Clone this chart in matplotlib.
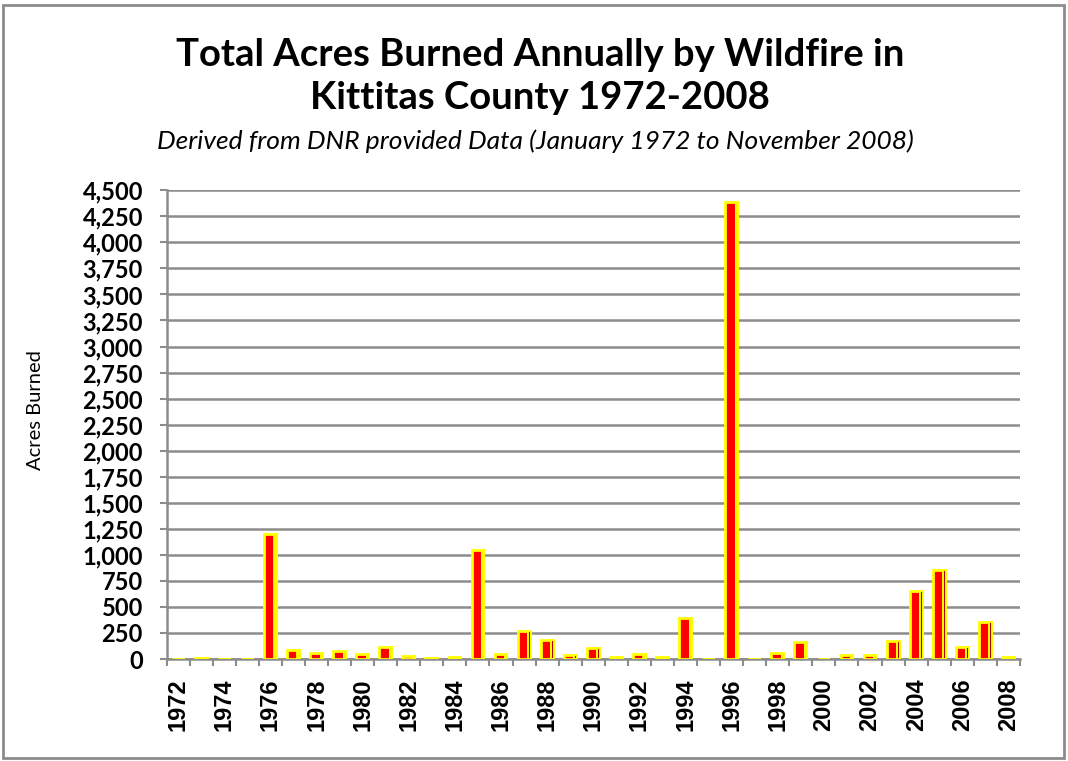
import numpy as np
import matplotlib.pyplot as plt
from matplotlib.patches import Rectangle

# Acres burned per year
years = list(range(1972, 2009))
acres = [5, 10, 5, 5, 1200, 90, 60, 80, 45, 115,
         30, 10, 20, 1050, 50, 265, 180, 40, 105, 20,
         50, 15, 390, 5, 4390, 5, 55, 165, 5, 35,
         40, 175, 650, 855, 120, 355, 20]
year_labels = [str(y) if y % 2 == 0 else "" for y in years]
y_ticks = list(range(0, 4501, 250))
y_labels = [f"{v:,}" for v in y_ticks]

plt.rcParams["font.family"] = ["Lato", "DejaVu Sans"]

fig = plt.figure(figsize=(10.68, 7.61), dpi=100)
ax = fig.add_axes([0.156, 0.134, 0.799, 0.616])

x = np.arange(len(years))
# front face + darker side face to mimic the 3D columns
ax.bar(x - 0.05, acres, width=0.45, color="#ff0000", edgecolor="#ffff00",
       linewidth=2, zorder=3)
ax.bar(x + 0.23, acres, width=0.1, color="#b00000", edgecolor="#ffff00",
       linewidth=1.4, zorder=3)

ax.set_xlim(-0.5, len(years) - 0.5)
ax.set_ylim(0, 4500)
ax.set_yticks(y_ticks, y_labels, fontsize=17, fontweight="bold")
ax.grid(axis="y", color="#8c8c8c", linewidth=1.8, zorder=0)

ax.set_xticks(x, year_labels, rotation=90, fontsize=17, fontweight="bold",
              family="Liberation Sans")
ax.set_xticks(np.arange(-0.5, len(years), 1), minor=True)
ax.tick_params(axis="x", which="major", length=0, pad=14)
ax.tick_params(axis="x", which="minor", length=5, width=1.5, color="#8c8c8c")
ax.tick_params(axis="y", length=5, width=1.5, color="#8c8c8c", pad=12)

for side in ["top", "right"]:
    ax.spines[side].set_visible(False)
for side in ["left", "bottom"]:
    ax.spines[side].set_color("#8c8c8c")
    ax.spines[side].set_linewidth(1.8)

fig.text(0.033, 0.461, "Acres Burned", rotation=90, ha="center", va="center",
         fontsize=14.5)

fig.text(0.506, 0.928, "Total Acres Burned Annually by Wildfire in",
         ha="center", va="center", fontsize=27.5, fontweight="bold")
fig.text(0.506, 0.871, "Kittitas County 1972-2008",
         ha="center", va="center", fontsize=27.5, fontweight="bold")
fig.text(0.501, 0.815, "Derived from DNR provided Data (January 1972 to November 2008)",
         ha="center", va="center", fontsize=19, fontstyle="italic")

fig.patches.append(Rectangle((0.003, 0.004), 0.993, 0.99, transform=fig.transFigure,
                             fill=False, edgecolor="#8c8c8c", linewidth=2))

fig.savefig("out.png", dpi=100)
